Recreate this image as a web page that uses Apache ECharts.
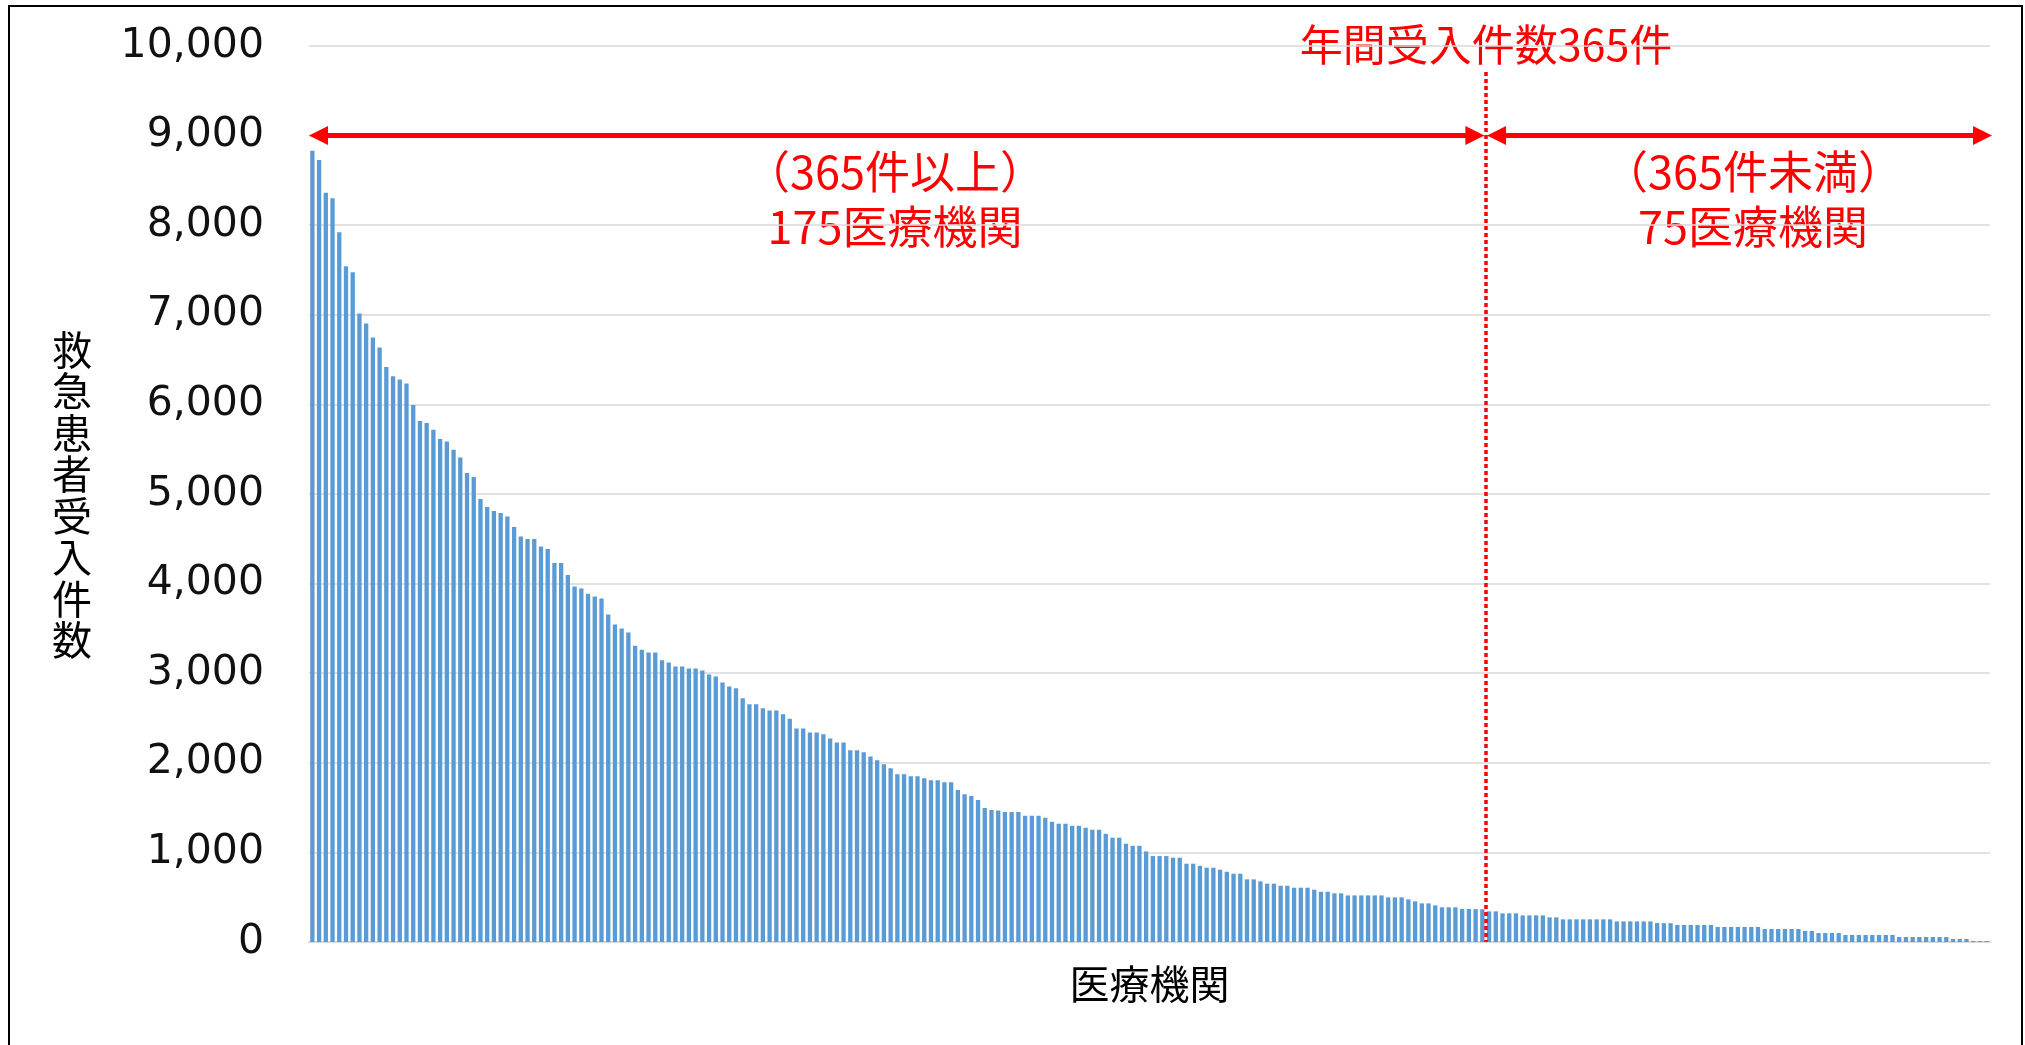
<!DOCTYPE html>
<html>
<head>
<meta charset="utf-8">
<script src="https://cdn.jsdelivr.net/npm/echarts@6/dist/echarts.min.js"></script>
<style>
  html, body { margin: 0; padding: 0; background: #fff; }
  #chart { width: 2025px; height: 1045px; }
</style>
</head>
<body>
<div id="chart"></div>
<script>
// Hospitals with 365 or more accepted emergency patients per year (175)
const over365 = [
  8830, 8727, 8362, 8302, 7922, 7543, 7476, 7014, 6902, 6746,
  6634, 6418, 6314, 6277, 6232, 5994, 5815, 5793, 5718, 5614,
  5585, 5495, 5406, 5235, 5190, 4944, 4855, 4810, 4788, 4750,
  4631, 4527, 4497, 4497, 4415, 4386, 4229, 4229, 4095, 3969,
  3946, 3887, 3857, 3835, 3656, 3544, 3500, 3455, 3306, 3261,
  3232, 3232, 3145, 3119, 3074, 3074, 3052, 3052, 3029, 2985,
  2962, 2895, 2851, 2832, 2721, 2654, 2654, 2609, 2583, 2583,
  2542, 2493, 2382, 2382, 2337, 2337, 2319, 2270, 2226, 2226,
  2140, 2140, 2118, 2069, 2028, 1984, 1939, 1872, 1872, 1850,
  1850, 1828, 1805, 1805, 1783, 1783, 1697, 1649, 1630, 1585,
  1496, 1474, 1468, 1451, 1450, 1450, 1409, 1409, 1409, 1387,
  1342, 1320, 1320, 1297, 1297, 1275, 1253, 1253, 1208, 1164,
  1164, 1097, 1074, 1074, 1011, 959, 959, 959, 941, 941,
  874, 874, 851, 829, 829, 807, 784, 762, 762, 699,
  699, 677, 651, 651, 628, 628, 606, 606, 606, 584,
  561, 561, 543, 543, 520, 520, 520, 520, 520, 520,
  498, 498, 498, 476, 454, 431, 431, 409, 387, 387,
  387, 370, 368, 367, 366
];
// Hospitals with fewer than 365 (75)
const under365 = [
  342, 342, 320, 320, 320, 297, 297, 297, 297, 275,
  275, 253, 253, 253, 253, 253, 253, 253, 253, 230,
  230, 230, 230, 230, 230, 212, 210, 210, 190, 190,
  190, 190, 190, 190, 168, 168, 168, 168, 168, 168,
  168, 145, 145, 145, 145, 145, 145, 123, 123, 100,
  100, 100, 100, 78, 78, 78, 78, 78, 78, 78,
  78, 56, 56, 56, 56, 56, 56, 56, 56, 34,
  34, 34, 12, 12, 12
];
const yTicks = [0, 1000, 2000, 3000, 4000, 5000, 6000, 7000, 8000, 9000, 10000];
const threshold = 365;
const arrowLevel = 9000;
const dividerTop = 9710;

const values = over365.concat(under365);
const categories = values.map((_, i) => String(i + 1));
const nOver = over365.length, nAll = values.length;

const yAxisName = '救急患者受入件数';
const xAxisName = '医療機関';
const dividerLabel = '年間受入件数' + threshold + '件';
const leftNote = '（' + threshold + '件以上）\n' + nOver + '医療機関';
const rightNote = '（' + threshold + '件未満）\n' + (nAll - nOver) + '医療機関';

const RED = '#ff0000';
const JP = '"Noto Sans CJK JP", "Noto Sans", sans-serif';

const chart = echarts.init(document.getElementById('chart'), null, { renderer: 'canvas' });

// pixel width of a category slot, used only to put arrow tips exactly on boundaries
const plotLeft = 309, plotRight = 1990;
const unit = (plotRight - plotLeft) / nAll;
const headLen = 19;
const half = headLen / 2 / unit;

chart.setOption({
  animation: false,
  backgroundColor: '#ffffff',
  grid: { left: plotLeft, right: 2025 - plotRight, top: 46, bottom: 103, containLabel: false },
  xAxis: [
    {
      type: 'category',
      data: categories,
      axisLine: { show: true, lineStyle: { color: '#d9d9d9', width: 2 } },
      axisTick: { show: false },
      axisLabel: { show: false },
      name: xAxisName,
      nameLocation: 'middle',
      nameGap: 22,
      nameTextStyle: { fontFamily: JP, fontSize: 40, color: '#000' }
    },
    { type: 'value', min: 0, max: nAll, show: false }
  ],
  yAxis: {
    type: 'value',
    min: yTicks[0],
    max: yTicks[yTicks.length - 1],
    interval: yTicks[1] - yTicks[0],
    axisLine: { show: false },
    axisTick: { show: false },
    splitLine: { lineStyle: { color: '#d9d9d9', width: 1.5 } },
    axisLabel: {
      margin: 45,
      fontFamily: '"DejaVu Sans", Verdana, sans-serif',
      fontSize: 41,
      color: '#111',
      formatter: v => v.toLocaleString('en-US')
    }
  },
  series: [
    {
      type: 'bar',
      data: values,
      xAxisIndex: 0,
      barCategoryGap: '36%',
      itemStyle: { color: '#5b9bd5' },
      silent: true
    },
    {
      type: 'scatter',
      xAxisIndex: 1,
      data: [[0, 0]],
      symbolSize: 0,
      silent: true,
      markLine: {
        silent: true,
        animation: false,
        label: { show: false },
        data: [
          [
            { coord: [nOver, dividerTop], symbol: 'none', lineStyle: { color: RED, width: 3.5, type: [4, 3] } },
            { coord: [nOver, 0], symbol: 'none' }
          ],
          [
            { coord: [half, arrowLevel], symbol: 'triangle', symbolSize: [19, headLen], lineStyle: { color: RED, width: 5, type: 'solid' } },
            { coord: [nOver - 0.2 - half, arrowLevel], symbol: 'triangle', symbolSize: [19, headLen] }
          ],
          [
            { coord: [nOver + 0.2 + half, arrowLevel], symbol: 'triangle', symbolSize: [19, headLen], lineStyle: { color: RED, width: 5, type: 'solid' } },
            { coord: [nAll + 0.3 - half, arrowLevel], symbol: 'triangle', symbolSize: [19, headLen] }
          ]
        ],
        itemStyle: { color: RED }
      }
    }
  ],
  graphic: [
    {
      type: 'rect', silent: true, z: 100,
      shape: { x: 9, y: 6, width: 2013, height: 1070 },
      style: { fill: 'none', stroke: '#000', lineWidth: 2 }
    },
    {
      type: 'text', x: 72, y: 495, silent: true,
      style: {
        text: yAxisName.split('').join('\n'),
        font: '40px ' + JP, lineHeight: 41.5, fill: '#000',
        align: 'center', verticalAlign: 'middle', textAlign: 'center', textVerticalAlign: 'middle'
      }
    },
    {
      type: 'text', x: 1486, y: 45, silent: true,
      style: {
        text: dividerLabel, font: '43px ' + JP, fill: RED,
        align: 'center', verticalAlign: 'middle', textAlign: 'center', textVerticalAlign: 'middle'
      }
    },
    {
      type: 'text', x: 895, y: 199, silent: true,
      style: {
        text: leftNote, font: '45px ' + JP, lineHeight: 55, fill: RED,
        align: 'center', verticalAlign: 'middle', textAlign: 'center', textVerticalAlign: 'middle'
      }
    },
    {
      type: 'text', x: 1753, y: 199, silent: true,
      style: {
        text: rightNote, font: '45px ' + JP, lineHeight: 55, fill: RED,
        align: 'center', verticalAlign: 'middle', textAlign: 'center', textVerticalAlign: 'middle'
      }
    }
  ]
});
</script>
</body>
</html>
